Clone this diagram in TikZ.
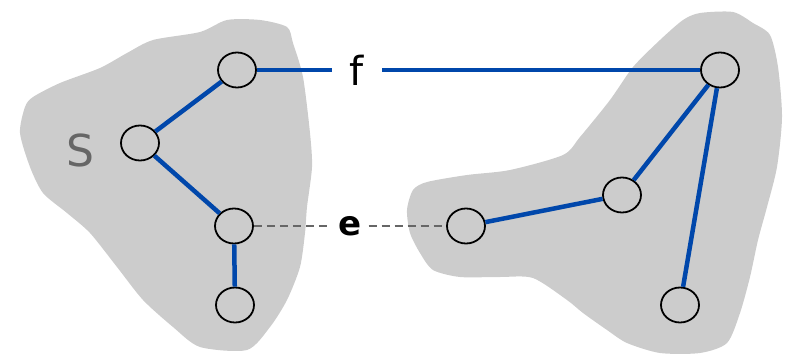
\documentclass[tikz,border=0pt]{standalone}
\usepackage{fontspec}
\setmainfont{DejaVu Sans}
\definecolor{blobgray}{HTML}{CCCCCC}
\definecolor{treeblue}{HTML}{0047AB}
\definecolor{labelgray}{HTML}{666666}
\usetikzlibrary{shapes.geometric}
\tikzset{
  vertex/.style={ellipse, draw=black, line width=1.8pt, fill=blobgray,
    minimum width=38pt, minimum height=35pt, inner sep=0pt},
  blob/.style={fill=blobgray, draw=none},
  treeedge/.style={draw=treeblue, line width=4.5pt},
  crossedge/.style={draw=labelgray, line width=1.6pt, dash pattern=on 8pt off 5pt},
  edgelabel/.style={inner ysep=0pt, font=\fontsize{32}{36}\selectfont},
}
\begin{document}
\begin{tikzpicture}[x=1pt,y=-1pt]
\useasboundingbox (0,0) rectangle (803,356);

% the cut S
\path[blob] plot[smooth cycle, tension=0.45] coordinates {
  (287,27) (293,43) (303,77) (310,133) (312,167) (307,207) (305,233)
  (300,267) (287,300) (270,327) (247,350) (200,347) (173,327) (143,300)
  (117,267) (90,233) (67,213) (43,193) (30,167) (20,133) (25,107)
  (33,97) (60,83) (100,68) (127,53) (153,40) (200,32) (227,20) (260,20)};

% the other side
\path[blob] plot[smooth cycle, tension=0.45] coordinates {
  (700,13) (733,12) (753,23) (770,35) (778,67) (782,117) (777,167)
  (767,207) (758,240) (750,277) (740,313) (727,343) (700,353) (660,353)
  (627,343) (607,330) (583,313) (567,300) (533,278) (500,277) (460,277)
  (433,270) (420,253) (410,233) (407,210) (413,190) (427,182) (467,175)
  (510,170) (563,155) (580,137) (610,100) (633,67) (660,40) (683,20)};

\node[text=labelgray, font=\fontsize{44}{48}\selectfont] (S) at (80,150) {S};

% vertices
\node[vertex] (a) at (237,70) {};
\node[vertex] (b) at (140,143) {};
\node[vertex] (c) at (234,226) {};
\node[vertex] (d) at (235,305) {};
\node[vertex] (g) at (720,70) {};
\node[vertex] (h) at (622,195) {};
\node[vertex] (i) at (466,226) {};
\node[vertex] (j) at (680,305) {};

% edge labels
\node[edgelabel, inner xsep=18pt, font=\fontsize{40}{44}\selectfont] (f) at (357,70) {f};
\node[edgelabel, inner xsep=7pt, font=\fontsize{34}{38}\selectfont\bfseries] (e) at (350,226) {e};

% tree edges and the non-tree edge e
\draw[treeedge] (a) -- (b);
\draw[treeedge] (b) -- (c);
\draw[treeedge] (c) -- (d);
\draw[treeedge] (g) -- (h);
\draw[treeedge] (h) -- (i);
\draw[treeedge] (g) -- (j);
\draw[treeedge] (a.east) -- (f.west);
\draw[treeedge] (f.east) -- (g.west);
\draw[crossedge] (c.east) -- (e.west);
\draw[crossedge] (e.east) -- (i.west);
\end{tikzpicture}
\end{document}
